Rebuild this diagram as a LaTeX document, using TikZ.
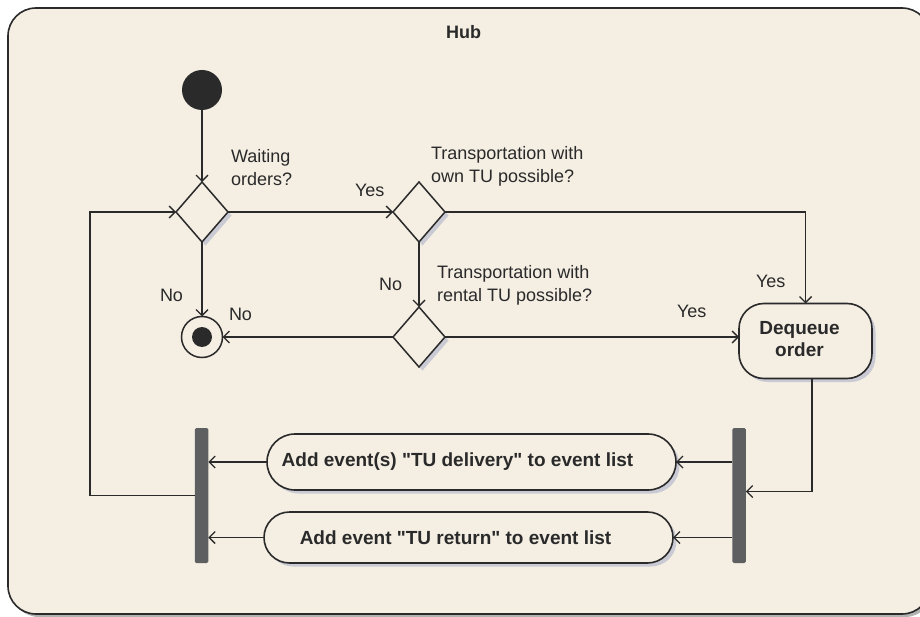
\documentclass[tikz,border=0pt]{standalone}
\usepackage{fontspec}
\setmainfont{Liberation Sans}[Ligatures=TeXOff]
\usetikzlibrary{arrows.meta,shapes.geometric,shadows}
\definecolor{bgc}{HTML}{F4EEE3}
\definecolor{ink}{HTML}{2A2A2A}
\definecolor{shadowc}{HTML}{C9CAD3}
\definecolor{barc}{HTML}{5E5F61}
\begin{document}
\begin{tikzpicture}[x=1pt,y=-1pt,
  every node/.style={inner sep=0pt, outer sep=0pt},
  reg/.style={font=\fontsize{18}{23}\selectfont, text=ink},
  bld/.style={font=\fontsize{19}{22}\selectfont\bfseries, text=ink},
  arr/.style={draw=ink, line width=1.3pt, -{Straight Barb[length=6pt,width=12pt,line width=1.4pt]}},
  ln/.style={draw=ink, line width=1.3pt},
  shadowed/.style={drop shadow={shadow xshift=3.5pt, shadow yshift=-3.5pt, fill=shadowc, opacity=1}},
  decision/.style={diamond, draw=ink, line width=1.5pt, fill=bgc, minimum width=52pt, minimum height=60pt, shadowed},
  action/.style={draw=ink, line width=1.6pt, fill=bgc, shadowed},
  bar/.style={rectangle, fill=barc, minimum width=13.5pt, minimum height=135pt, rounded corners=1.5pt},
]
\useasboundingbox (0,0) rectangle (920,617);
\clip (0,0) rectangle (920,617);
\fill[white] (0,0) rectangle (920,617);
% frame
\draw[draw=ink, line width=1.6pt, fill=bgc, rounded corners=28pt,
  drop shadow={shadow xshift=3pt, shadow yshift=-3pt, fill=gray!60, opacity=1}]
  (8,8) rectangle (930,614);
\node[font=\fontsize{18}{22}\selectfont\bfseries, text=ink, anchor=base] (hub) at (463.5,39) {Hub};

% nodes
\node[circle, fill=ink, minimum size=40pt] (start) at (202,90) {};
\node[decision] (d1) at (202,212) {};
\node[decision] (d2) at (419,212) {};
\node[decision] (d3) at (419,337) {};
\node[circle, draw=ink, line width=1.5pt, fill=bgc, minimum size=41pt] (final) at (202,337) {};
\node[circle, fill=ink, minimum size=20pt] (finaldot) at (final.center) {};
\node[action, rounded corners=25pt, minimum width=133pt, minimum height=75pt] (deq) at (805.5,341) {};
\node[bld, align=center] (deqt) at ([xshift=-6pt,yshift=2pt]deq.center) {Dequeue\\order};
\node[action, rounded corners=28pt, minimum width=409pt, minimum height=56pt] (a1) at (471.5,462) {};
\node[bld] (a1t) at ([xshift=-14pt]a1.center) {Add event(s) "TU delivery" to event list};
\node[action, rounded corners=25.5pt, minimum width=409pt, minimum height=51pt] (a2) at (468.5,537.5) {};
\node[bld] (a2t) at ([xshift=-13pt]a2.center) {Add event "TU return" to event list};
\node[bar] (bar1) at (201.5,495.5) {};
\node[bar] (bar2) at (739,495.5) {};

% labels
\node[reg, align=left, anchor=north west] (lwait) at (231,149.5) {Waiting\\orders?};
\node[reg, anchor=base west] (lyes1) at (355,196.7) {Yes};
\node[reg, align=left, anchor=north west] (lown) at (431,146.2) {Transportation with\\own TU possible?};
\node[reg, anchor=base west] (lno1) at (160,301.7) {No};
\node[reg, anchor=base west] (lno2) at (229,320) {No};
\node[reg, anchor=base west] (lno3) at (379,290.7) {No};
\node[reg, align=left, anchor=north west] (lrent) at (437,265.2) {Transportation with\\rental TU possible?};
\node[reg, anchor=base west] (lyes2) at (677,317.7) {Yes};
\node[reg, anchor=base west] (lyes3) at (756,287.3) {Yes};

% connectors
\draw[arr] (start) -- (d1.north);
\draw[arr] (d1.east) -- (d2.west);
\draw[arr] (d1.south) -- (final.north);
\draw[arr] (d2.south) -- (d3.north);
\draw[arr] (d3.west) -- (final.east);
\draw[arr] (d2.east) -| (deq.north);
\draw[arr] (d3.east) -- (d3.east -| deq.west);
\coordinate (deqout) at ([xshift=6.5pt]deq.south);
\coordinate (bar2in) at ([yshift=4pt]bar2.east);
\draw[arr] (deqout) |- (bar2in);
\draw[arr] (bar2.west |- a1.east) -- (a1.east);
\draw[arr] (bar2.west |- a2.east) -- (a2.east);
\draw[arr] (a1.west) -- (bar1.east |- a1.west);
\draw[arr] (a2.west) -- (bar1.east |- a2.west);
\coordinate (loop) at (90,350);
\draw[arr] (bar1.west) -| (loop) |- (d1.west);
\end{tikzpicture}
\end{document}
